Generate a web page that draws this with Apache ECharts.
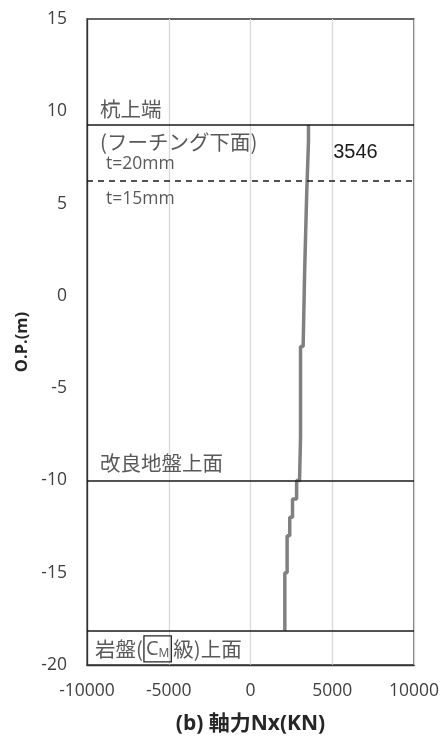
<!DOCTYPE html>
<html><head><meta charset="utf-8">
<script src="https://cdn.jsdelivr.net/npm/echarts@6/dist/echarts.min.js"></script>
<style>html,body{margin:0;padding:0;background:#fff;}#c{width:445px;height:740px;}</style>
</head><body><div id="c"></div>
<script>
// ---- data ----
const xTicks = [-10000, -5000, 0, 5000, 10000];
const yTicks = [-20, -15, -10, -5, 0, 5, 10, 15];
// depth (O.P. m) boundaries of each constant-force segment
const depthBreaks = [9.27, 8.37, 5.31, 1.26, -2.74, -7.65, -10.0, -11.0, -12.0, -13.0, -15.0, -18.15];
// axial force (kN) in each segment
const axialForce = [3546, 3430, 3310, 3220, 3060, 3000, 2820, 2570, 2400, 2240, 2100];
// reference levels (O.P. m)
const pileTop = 9.27;
const thicknessChange = 6.25;
const improvedGroundTop = -10.0;
const rockTop = -18.15;
const topLabel = '3546';

const points = [];
for (let i = 0; i < axialForce.length; i++) {
  points.push([axialForce[i], depthBreaks[i]]);
  points.push([axialForce[i], depthBreaks[i + 1]]);
}

const FONT_NUM = "'Open Sans','Noto Sans CJK JP',sans-serif";
const FONT_JP = "'Noto Sans CJK JP','Open Sans',sans-serif";

const chart = echarts.init(document.getElementById('c'), null, {renderer: 'canvas'});
const option = {
  animation: false,
  backgroundColor: '#fff',
  grid: {left: 87, right: 31, top: 19, bottom: 73, show: true, borderColor: '#333', borderWidth: 1.3, backgroundColor: 'transparent'},
  xAxis: {
    type: 'value', min: xTicks[0], max: xTicks[xTicks.length - 1], interval: 5000,
    axisLine: {show: true, onZero: false, lineStyle: {color: '#333', width: 1.3}},
    axisTick: {show: false},
    splitLine: {show: true, lineStyle: {color: '#d9d9d9', width: 1.3}},
    axisLabel: {color: '#404040', fontSize: 17.5, fontFamily: FONT_NUM, margin: 17, formatter: v => String(v)},
    name: '(b) 軸力Nx(KN)', nameLocation: 'middle', nameGap: 49,
    nameTextStyle: {color: '#262626', fontSize: 21, fontWeight: 'bold', fontFamily: FONT_NUM}
  },
  yAxis: {
    type: 'value', min: yTicks[0], max: yTicks[yTicks.length - 1], interval: 5,
    axisLine: {show: true, onZero: false, lineStyle: {color: '#333', width: 1.3}},
    axisTick: {show: false},
    splitLine: {show: false},
    axisLabel: {color: '#404040', fontSize: 17.5, fontFamily: FONT_NUM, margin: 20, formatter: v => String(v)},
    name: 'O.P.(m)', nameLocation: 'middle', nameGap: 56, nameRotate: 90,
    nameTextStyle: {color: '#262626', fontSize: 16.5, fontWeight: 'bold', fontFamily: FONT_NUM}
  },
  series: [{
    type: 'line', data: points, symbol: 'none', silent: true,
    lineStyle: {color: '#808080', width: 3.5},
    markLine: {
      symbol: 'none', silent: true, label: {show: false},
      data: [
        {yAxis: pileTop, lineStyle: {color: '#1a1a1a', width: 1.5, type: 'solid'}},
        {yAxis: thicknessChange, lineStyle: {color: '#1a1a1a', width: 1.5, type: [6, 5]}},
        {yAxis: improvedGroundTop, lineStyle: {color: '#1a1a1a', width: 1.5, type: 'solid'}},
        {yAxis: rockTop, lineStyle: {color: '#1a1a1a', width: 1.5, type: 'solid'}}
      ]
    }
  }]
};
chart.setOption(option);

// ---- annotations, anchored in data coordinates ----
const px = (x, y) => chart.convertToPixel({gridIndex: 0}, [x, y]);
const ctx = document.createElement('canvas').getContext('2d');
function tw(text, font) { ctx.font = font; return ctx.measureText(text).width; }
const JP = 20.5, JPC = '#595959';
const elements = [];
function addText(text, x, y, opts) {
  elements.push(Object.assign({type: 'text', x: x, y: y, silent: true,
    style: Object.assign({text: text, fill: JPC, font: JP + 'px ' + FONT_JP, textVerticalAlign: 'middle'}, opts || {})}));
}
const leftX = px(-10000, 0)[0] + 13;
addText('杭上端', leftX, px(0, pileTop)[1] - 16);
addText('(フーチング下面)', leftX, px(0, pileTop)[1] + 17);
addText('t=20mm', leftX + 6, px(0, thicknessChange)[1] - 16, {font: '17.5px ' + FONT_NUM});
addText('t=15mm', leftX + 6, px(0, thicknessChange)[1] + 19, {font: '17.5px ' + FONT_NUM});
addText(topLabel, px(5000, 0)[0] + 1, px(0, pileTop)[1] + 28, {font: '20px "Liberation Sans",Arial,sans-serif', fill: '#1a1a1a'});
addText('改良地盤上面', leftX, px(0, improvedGroundTop)[1] - 17);
// rock label with boxed C_M
const ry = (px(0, rockTop)[1] + px(0, -20)[1]) / 2 + 1;
const rx = leftX - 5;
const f1 = JP + 'px ' + FONT_JP;
const w1 = tw('岩盤(', f1);
addText('岩盤(', rx, ry);
const bx = rx + w1 + 1;
addText('C', bx + 2, ry, {font: '20px ' + FONT_NUM});
const wc = tw('C', '20px ' + FONT_NUM);
addText('M', bx + 2 + wc, ry + 5, {font: '12px ' + FONT_NUM});
const wm = tw('M', '12px ' + FONT_NUM);
const bw = wc + wm + 4;
elements.push({type: 'rect', silent: true, shape: {x: bx, y: ry - 13, width: bw, height: 26},
  style: {fill: 'none', stroke: '#262626', lineWidth: 1.3}});
addText('級)上面', bx + bw + 2, ry);
chart.setOption({graphic: {elements: elements}});
</script></body></html>
